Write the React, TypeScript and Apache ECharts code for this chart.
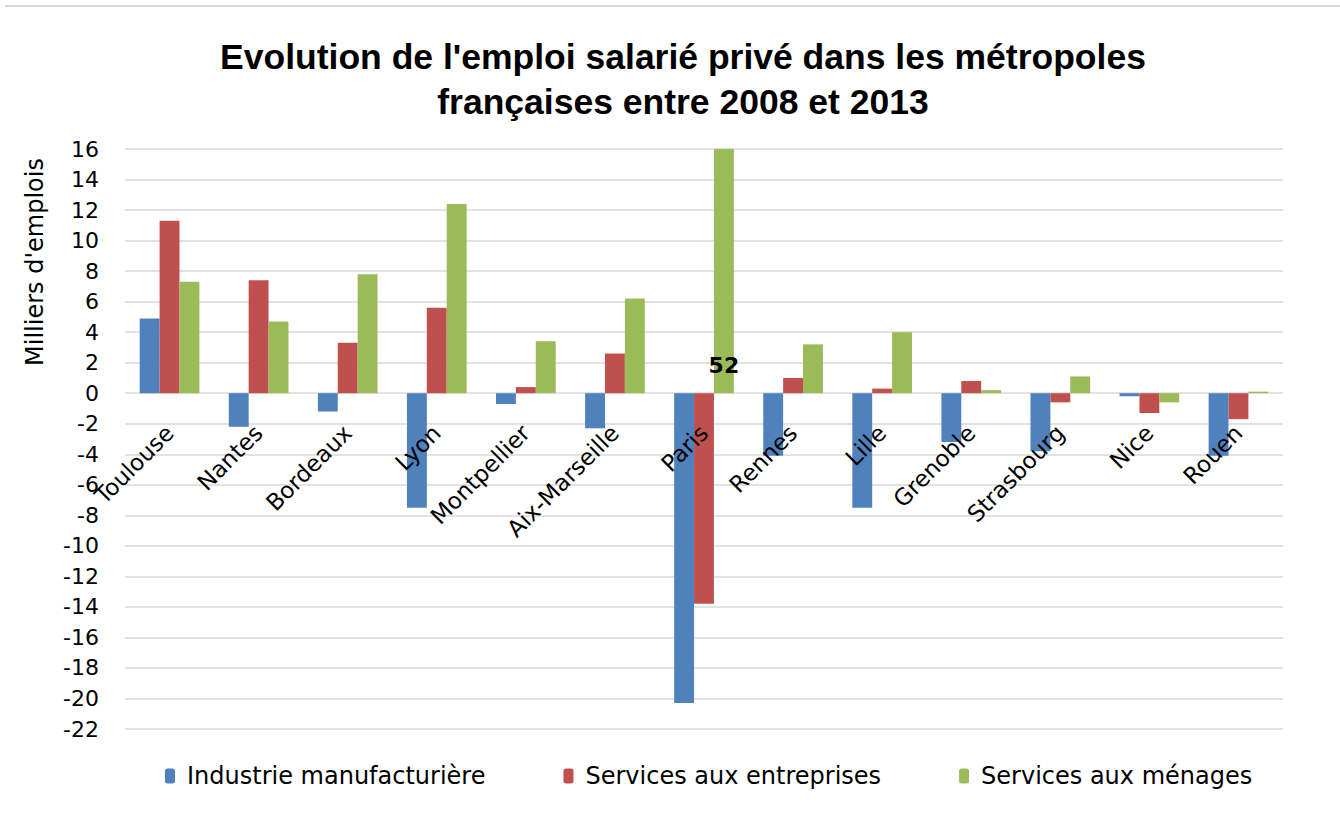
import React, { useEffect, useRef } from "react";
import * as echarts from "echarts";

const cities = ["Toulouse", "Nantes", "Bordeaux", "Lyon", "Montpellier", "Aix-Marseille", "Paris", "Rennes", "Lille", "Grenoble", "Strasbourg", "Nice", "Rouen"];
const industrie = [4.9, -2.2, -1.2, -7.5, -0.7, -2.3, -20.3, -4.1, -7.5, -3.2, -3.8, -0.2, -4.1];
const servEntreprises = [11.3, 7.4, 3.3, 5.6, 0.4, 2.6, -13.8, 1.0, 0.3, 0.8, -0.6, -1.3, -1.7];
const servMenages = [7.3, 4.7, 7.8, 12.4, 3.4, 6.2, 52, 3.2, 4.0, 0.2, 1.1, -0.6, 0.1];
const seriesNames = ["Industrie manufacturière", "Services aux entreprises", "Services aux ménages"];
const colors = ["#4f81bd", "#c0504d", "#9bbb59"];
const titleLines = ["Evolution de l'emploi salarié privé dans les métropoles", "françaises entre 2008 et 2013"];
const yName = "Milliers d'emplois";

const FONT = "'DejaVu Sans', 'Open Sans', sans-serif";
const FS = 22;

export default function App() {
  const ref = useRef<HTMLDivElement>(null);
  useEffect(() => {
    const chart = echarts.init(ref.current!, null, { renderer: "svg" });
    const menagesData = servMenages.map((v) =>
      v > 16
        ? {
            value: v,
            label: {
              show: true,
              position: "insideBottom",
              distance: 17,
              formatter: "{c}",
              color: "#000",
              fontWeight: "bold",
              fontSize: 22,
              fontFamily: FONT,
            },
          }
        : v
    );
    chart.setOption({
      animation: false,
      backgroundColor: "#fff",
      grid: { left: 125, right: 57, top: 149, bottom: 86, containLabel: false, outerBoundsMode: "none" },
      graphic: [
        { type: "line", shape: { x1: 5, y1: 6, x2: 1340, y2: 6 }, style: { stroke: "#c8c8c8", lineWidth: 1.5 } },
        {
          type: "text",
          x: 683,
          y: 57,
          style: { text: titleLines[0], font: "bold 35.5px 'Liberation Sans', sans-serif", fill: "#000", textAlign: "center", textVerticalAlign: "middle" },
        },
        {
          type: "text",
          x: 683,
          y: 102,
          style: { text: titleLines[1], font: "bold 35.5px 'Liberation Sans', sans-serif", fill: "#000", textAlign: "center", textVerticalAlign: "middle" },
        },
        {
          type: "text",
          x: 35,
          y: 262,
          rotation: Math.PI / 2,
          style: { text: yName, font: `24px ${FONT}`, fill: "#000", textAlign: "center", textVerticalAlign: "middle" },
        },
      ],
      legend: {
        left: 160,
        top: 759,
        itemGap: 78,
        itemWidth: 10,
        itemHeight: 15,
        textStyle: { fontSize: 24, fontFamily: FONT, color: "#000", padding: [0, 0, 0, 7] },
        data: seriesNames,
      },
      xAxis: {
        type: "category",
        data: cities,
        offset: -336,
        axisLine: { show: false, onZero: false },
        axisTick: { show: false },
        axisLabel: { interval: 0, rotate: 45, fontSize: 23, fontFamily: FONT, color: "#000", margin: 36, hideOverlap: false },
        splitLine: { show: false },
        z: 3,
      },
      yAxis: {
        type: "value",
        min: -22,
        max: 16,
        interval: 2,
        axisLine: { show: false },
        axisTick: { show: false },
        axisLabel: { fontSize: FS, fontFamily: FONT, color: "#000", margin: 26 },
        splitLine: { lineStyle: { color: "#d9d9d9", width: 1.5 } },
      },
      series: [
        { name: seriesNames[0], type: "bar", data: industrie, itemStyle: { color: colors[0] }, barGap: "0%", barCategoryGap: "33%", clip: true, z: 2 },
        { name: seriesNames[1], type: "bar", data: servEntreprises, itemStyle: { color: colors[1] }, barGap: "0%", barCategoryGap: "33%", clip: true, z: 2 },
        { name: seriesNames[2], type: "bar", data: menagesData, itemStyle: { color: colors[2] }, barGap: "0%", barCategoryGap: "33%", clip: true, z: 2 },
      ],
    });
    return () => chart.dispose();
  }, []);
  return <div ref={ref} style={{ position: "absolute", left: 0, top: 0, width: 1340, height: 815 }} />;
}
